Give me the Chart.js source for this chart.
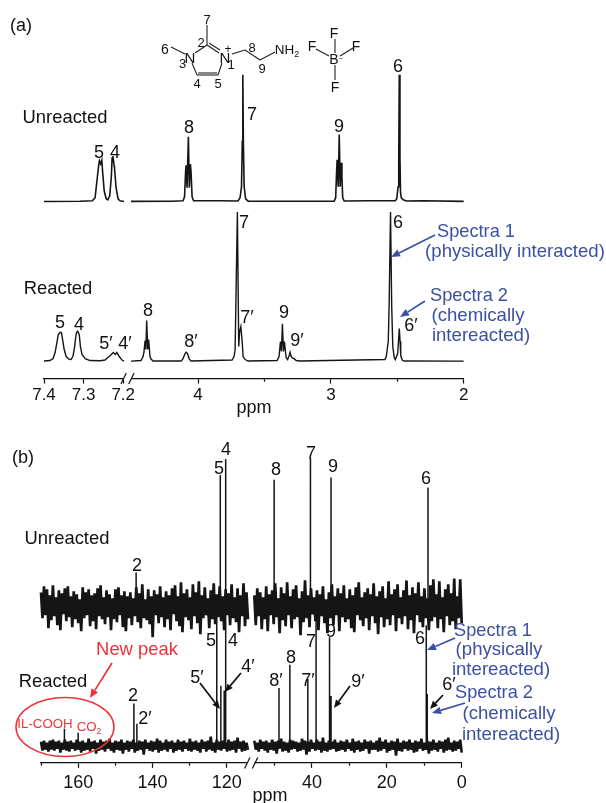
<!DOCTYPE html>
<html>
<head>
<meta charset="utf-8">
<title>NMR spectra</title>
<script src="https://cdn.jsdelivr.net/npm/chart.js@4"></script>
<style>
html,body{margin:0;padding:0;background:#fff;}
#page{position:relative;width:606px;height:803px;overflow:hidden;font-family:"Liberation Sans",Arial,sans-serif;color:#111;}
canvas{position:absolute;left:0;}
#art{position:absolute;left:0;top:0;}
.t{position:absolute;transform:translate(-50%,-50%);white-space:nowrap;line-height:1;}
sub{font-size:65%;vertical-align:baseline;position:relative;top:.3em;}
</style>
</head>
<body>
<div id="page">
<canvas id="a" width="606" height="415" style="top:0"></canvas>
<canvas id="b" width="606" height="373" style="top:430px"></canvas>
<svg id="art" width="606" height="803" xmlns="http://www.w3.org/2000/svg"></svg>
</div>
<script>
// ---------- (a) 1H spectra: chemical shift (ppm) / intensity ----------
const h1UnreactedLeftPpm=[7.4,7.309,7.278,7.271,7.266,7.262,7.26,7.257,7.254,7.252,7.248,7.243,7.239,7.234,7.23,7.228,7.226,7.223,7.222,7.218,7.213,7.208,7.198];
const h1UnreactedLeftInt=[0.3,0.5,1,4,22,36,41,38,41.5,30,11,3,2,6,25,44,45.5,36,34,14,3,1,0.3];
const h1UnreactedRightPpm=[4.505,4.2,4.113,4.102,4.094,4.09,4.083,4.073,4.066,4.058,4.053,4.045,4.034,3.834,3.699,3.684,3.673,3.667,3.663,3.659,3.653,3.642,3.623,3.2,2.975,2.964,2.957,2.953,2.945,2.937,2.93,2.922,2.917,2.911,2.9,2.7,2.515,2.504,2.494,2.489,2.485,2.48,2.476,2.47,2.455,2.432,2.312,2];
const h1UnreactedRightInt=[0.4,0.5,1,5,30,36.5,14,64.8,14,37.5,30,5,1,1,0.8,4,15,60,126.8,60,15,3,0.6,0.5,0.6,4,30,42,15,67,15,39,25,4,0.8,1,1,3,15,45,126.8,45,10,4,2,0.8,1,0.4];
const h1ReactedLeftPpm=[7.4,7.385,7.377,7.372,7.367,7.364,7.359,7.356,7.353,7.349,7.344,7.337,7.332,7.327,7.323,7.32,7.318,7.315,7.311,7.308,7.304,7.296,7.284,7.258,7.246,7.233,7.225,7.22,7.216,7.21,7.203,7.198];
const h1ReactedLeftInt=[0.6,1,3,9,20,27,29.3,29,22,12,5,2.4,2,5,14,24,29,30.3,27,15,7,3,1,0.8,1.5,6,9,7,9,5,1.5,0.5];
const h1ReactedRightPpm=[4.505,4.43,4.414,4.407,4.399,4.393,4.387,4.379,4.372,4.362,4.354,4.339,4.128,4.113,4.098,4.09,4.079,4.068,4.053,3.744,3.729,3.721,3.714,3.704,3.694,3.687,3.678,3.668,3.661,3.646,3.623,3.405,3.39,3.38,3.372,3.365,3.357,3.35,3.337,3.326,3.314,3.307,3.299,3.292,3.284,3.277,3.262,3.231,2.593,2.583,2.568,2.561,2.551,2.542,2.534,2.523,2.515,2.497,2.491,2.485,2.479,2.474,2.463,2.448,2];
const h1ReactedRightInt=[0.4,1,5,10,21,12,41,12,22,5,2.5,0.5,0.5,3,8,9.3,8,3,0.5,1.5,5,12,70,149.3,15,30,35,20,5,2,0.5,1,5,20,10,37.7,10,20,4,2,6,9.3,5,4,3,3,1,0.5,2,5,20,60,149.3,55,15,4,2,8,20,33,20,6,1.5,0.5,0.4];

// ---------- (b) 13C spectra: sticks ----------
const c13UnreactedPpm=[144.4,121.75,120.3,50.1,40.4,34.9,9.0];
const c13UnreactedInt=[34,132,148,127,148.7,129.3,119.3];
const c13ReactedPpm=[163.7,160,145,144.2,122.7,121.6,120.7,120.3,48.8,45.9,41.1,38.9,35.3,34.9,9.46,9.2];
const c13ReactedInt=[17,13,42.3,22,132,60.3,55.3,132,58,81.3,67,129,109,50,121,52];

// ---------- (b) 13C baseline noise, read as upper / lower excursions ----------
const noiseUnreactedLeft=[14,-12,20,-9,17,-22,11,-14,21,-10,9,-19,16,-24,13,-8,18,-15,20,-11,
10,-21,15,-13,12,-17,7,-25,19,-12,14,-9,17,-20,11,-15,13,-23,18,-10,
21,-13,9,-18,16,-11,12,-24,8,-13,17,-16,19,-9,11,-21,15,-25,10,-12,
14,-19,8,-10,19,-16,13,-22,22,-12,7,-14,17,-18,10,-31,16,-9,12,-17,
20,-11,9,-21,15,-13,11,-24,18,-8,21,-15,10,-20,24,-26,13,-11,17,-14,
9,-23,22,-10,14,-17,25,-28,11,-12,19,-9,8,-22,16,-13,23,-18,12,-11,
20,-15,10,-24,17,-9,13,-19,22,-12,9,-16,18,-26,11,-10,23,-20,14,-13];
const noiseUnreactedRight=[11,-19,18,-10,14,-23,9,-13,20,-25,12,-9,16,-18,23,-11,8,-27,19,-14,
13,-20,24,-9,10,-22,17,-13,21,-11,8,-29,15,-16,26,-12,11,-21,18,-8,
9,-15,16,-24,12,-10,20,-17,7,-27,14,-12,22,-19,10,-9,18,-25,13,-11,
21,-16,8,-13,17,-22,11,-26,19,-9,24,-14,9,-20,14,-12,18,-24,12,-10,
23,-17,10,-28,15,-11,20,-21,8,-13,25,-19,12,-9,17,-25,22,-12,9,-18,
16,-10,26,-23,11,-14,19,-27,13,-9,24,-16,10,-21,18,-12,8,-24,21,-15,
27,-11,12,-22,25,-13,9,-26,17,-10,22,-19,13,-15,28,-23,10,-12,27,-17];
const noiseReactedLeft=[4,-5,5,-4,3,-6,5,-4,6,-5,4,-3,5,-7,3,-4,6,-5,4,-6,
5,-3,3,-5,6,-4,4,-7,5,-5,3,-4,7,-6,4,-3,5,-8,3,-5,
6,-4,4,-6,5,-3,7,-5,3,-7,5,-4,4,-5,6,-8,3,-4,5,-6,
4,-3,6,-7,3,-5,5,-4,4,-9,6,-3,3,-5,5,-6,4,-4,7,-7,
5,-5,3,-4,6,-6,4,-3,5,-7,3,-5,6,-4,4,-6,5,-3,3,-5,
7,-6,4,-4,5,-5,3,-7,6,-3,4,-6,5,-4,9,-5,3,-7,6,-4,
4,-5,5,-3,3,-6,6,-5,4,-4,5,-7,8,-3,4,-6,5,-5,3,-4];
const noiseReactedRight=[5,-4,3,-6,6,-3,4,-5,5,-7,3,-4,6,-5,4,-8,5,-3,7,-6,
4,-5,3,-7,6,-4,5,-3,4,-6,3,-5,7,-4,5,-9,4,-6,6,-3,
3,-5,6,-4,4,-7,8,-5,3,-6,5,-4,4,-3,6,-6,3,-5,5,-4,
4,-6,6,-3,3,-5,7,-7,4,-4,5,-6,3,-5,6,-3,4,-8,5,-4,
3,-4,5,-6,8,-5,4,-3,6,-7,3,-5,5,-4,4,-10,7,-5,3,-6,
5,-3,4,-5,6,-4,3,-7,5,-6,4,-3,7,-5,3,-4,5,-8,4,-5,
6,-4,3,-6,5,-3,4,-7,6,-5,8,-4,3,-6,5,-5,4,-3,6,-7];

// ---------- axis ticks ----------
const ticksA=[7.4,7.3,7.2,4,3.5,3,2.5,2];
const labelsA=[7.4,7.3,7.2,4,3,2];
const ticksB=[170,160,150,140,130,120,50,40,30,20,10,0];
const labelsB=[160,140,120,40,20,0];
const rangesA=[[7.4,7.198],[4.505,2]];
const rangesB=[[170,114.3],[55.4,0]];

// ---------- text ----------
const textsBlack=[
["(a)",21,25,18],["Unreacted",65,117,18.4],["5",99,152,18],["4",115,151.5,18],["8",189,127,18],["7",252,114,18],["9",339,126,18],["6",398,66,18],
["Reacted",58,288,18.4],["5",60,322,18],["4",79,324,18],["5′",106,343,18],["4′",125,343,18],["8",148,310,18],["8′",191,341,18],["7",244,222,18],["7′",247,317,18],["9",284,312,18],["9′",297,340,18],["6",398,222,18],["6′",411,325,18],
["ppm",254,407,18],
["7",207,19,13],["2",201,42,13],["6",165,49,14],["3",182.5,63,13],["N",190,57,15],["N",225,57,15],["+",228,49,12],["1",231,64,13],["4",197,83,13],["5",218,83,13],["8",252,47,13],["9",262,68,13],["NH<sub>2</sub>",287,50,13.5],
["F",334,33,14],["F",312,46,14],["F",356,46,14],["F",335,87,14],["B",334,59,14],["⁻",341,61,11],
["(b)",23,457,18],["Unreacted",67,538,18.4],["2",137,565,18],["5",219,468,18],["4",226,449,18],["8",276,469,18],["7",311,453,18],["9",333,466,18],["6",426,478,18],
["Reacted",53,681,18.4],["2",133,695,18],["2′",145,718,18],["5",211,640,18],["4",233,640,18],["5′",197,677,18],["4′",248,666,18],["8",291,657,18],["8′",276,680,18],["7",311,641,18],["7′",308,680,18],["9",331,631,18],["9′",358,681,18],["6",420,638,18],["6′",449,684,18],
["ppm",270,795,18]
];
const textsRed=[["New peak",137,649,18.4],["IL-COOH",45,724,13.3],["CO<sub>2</sub>",89,727,13.3]];
const textsBlue=[
["Spectra 1",476,231,18.2],["(physically interacted)",515,251,18.6],["Spectra 2",469,295,18.2],["(chemically",478,315,18.6],["intereacted)",481,335,18.6],
["Spectra 1",493,630,18.2],["(physically",499,649,18.6],["intereacted)",501,669,18.6],["Spectra 2",494,692,18.2],["(chemically",509,713,18.6],["intereacted)",511,734,18.6]
];

// ---------- helpers ----------
function zip(xs,ys,offset){return xs.map((x,i)=>({x:x,y:ys[i]+(offset||0)}));}
function grid(range,values,offset){
  const step=(range[0]-range[1])/(values.length-1);
  return values.map((v,i)=>({x:range[0]-i*step,y:v+offset}));
}
function sticks(xs,ys,offset){
  const out=[];
  xs.forEach((x,i)=>{out.push({x:x,y:offset},{x:x,y:ys[i]+offset},{x:x,y:null});});
  return out;
}
function lineSet(data,width,join){
  return {data:data,showLine:true,pointRadius:0,borderWidth:width,borderColor:"#151515",tension:0,spanGaps:false,clip:false,borderJoinStyle:join||"miter"};
}

// ---------- broken x axis ----------
const breakLayouts={a:[[0,.1906],[.2073,1]],b:[[0,.4920],[.5070,1]]};
const breakRanges={a:rangesA,b:rangesB};
class BrokenScale extends Chart.LinearScale{
  buildTicks(){
    return (this.chart.canvas.id==="a"?ticksA:ticksB).map(v=>({value:v}));
  }
  getPixelForValue(v){
    const id=this.chart.canvas.id, r=breakRanges[id], f=breakLayouts[id];
    const i=(v>(r[0][1]+r[1][0])/2)?0:1;
    const t=(v-r[i][0])/(r[i][1]-r[i][0]);
    return this.left+this.width*(f[i][0]+t*(f[i][1]-f[i][0]));
  }
  _computeGridLineItems(area){
    const items=super._computeGridLineItems(area);
    const l=this.chart.canvas.id==="a"?labelsA:labelsB;
    items.forEach((it,i)=>{if(this.ticks[i]&&!l.includes(this.ticks[i].value)){it.ty2=it.ty1+2.5;}});
    return items;
  }
}
BrokenScale.id="broken";
BrokenScale.defaults=Chart.LinearScale.defaults;
Chart.register(BrokenScale);

const breakMarks={
  id:"breakMarks",
  afterDraw(chart){
    const id=chart.canvas.id,s=chart.scales.x,f=breakLayouts[id],c=chart.ctx;
    const x0=s.left+s.width*f[0][1],x1=s.left+s.width*f[1][0],y=s.top;
    c.save();
    c.fillStyle="#fff";c.fillRect(x0,y-2,x1-x0,4);
    c.strokeStyle="#111";c.lineWidth=1.2;
    const mid=(x0+x1)/2;
    [-3.9,3.9].forEach(d=>{c.beginPath();c.moveTo(mid+d-2.7,y+5.5);c.lineTo(mid+d+2.7,y-5.5);c.stroke();});
    c.restore();
  }
};

function makeChart(id,datasets,yMin,yMax,pad,labels,fontSize,tickPad){
  return new Chart(document.getElementById(id),{
    type:"scatter",
    data:{datasets:datasets},
    plugins:[breakMarks],
    options:{
      responsive:false,animation:false,events:[],
      layout:{padding:pad},
      plugins:{legend:{display:false},tooltip:{enabled:false}},
      scales:{
        x:{type:"broken",position:"bottom",min:0,max:200,
          border:{display:true,color:"#111",width:1.2},
          grid:{display:true,drawOnChartArea:false,drawTicks:true,tickLength:5,tickColor:"#111",tickWidth:1.2},
          ticks:{autoSkip:false,maxRotation:0,minRotation:0,padding:tickPad,color:"#111",
            font:{family:"'Liberation Sans',Arial,sans-serif",size:fontSize},
            callback:v=>labels.includes(v)?String(v):""}},
        y:{display:false,min:yMin,max:yMax}
      }
    }
  });
}

makeChart("a",[
  lineSet(zip(h1UnreactedLeftPpm,h1UnreactedLeftInt,159.5),1.6),
  lineSet(zip(h1UnreactedRightPpm,h1UnreactedRightInt,159.5),1.6),
  lineSet(zip(h1ReactedLeftPpm,h1ReactedLeftInt,0),1.4),
  lineSet(zip(h1ReactedRightPpm,h1ReactedRightInt,0),1.4)
],-17,300,{left:44,right:142.3,top:61,bottom:7},labelsA,17,2);

makeChart("b",[
  lineSet(grid(rangesB[0],noiseUnreactedLeft,140),2.7,"bevel"),
  lineSet(grid(rangesB[1],noiseUnreactedRight,140),2.7,"bevel"),
  lineSet(sticks(c13UnreactedPpm,c13UnreactedInt,140),1.5),
  lineSet(grid(rangesB[0],noiseReactedLeft,0),2.6,"bevel"),
  lineSet(grid(rangesB[1],noiseReactedRight,0),2.6,"bevel"),
  lineSet(sticks(c13ReactedPpm,c13ReactedInt,0),1.5)
],-17.3,297,{left:41,right:144.3,top:20,bottom:5.5},labelsB,18,4);

// ---------- text overlay ----------
const page=document.getElementById("page");
function addTexts(list,color){
  list.forEach(t=>{
    const s=document.createElement("span");
    s.className="t";s.innerHTML=t[0];
    s.style.left=t[1]+"px";s.style.top=t[2]+"px";s.style.fontSize=t[3]+"px";s.style.color=color;
    page.appendChild(s);
  });
}
addTexts(textsBlack,"#111");
addTexts(textsRed,"#ee3338");
addTexts(textsBlue,"#3c50a3");

// ---------- structure drawing, arrows, circle ----------
const svg=document.getElementById("art");
const NS="http://www.w3.org/2000/svg";
function el(name,attrs){const e=document.createElementNS(NS,name);for(const k in attrs)e.setAttribute(k,attrs[k]);svg.appendChild(e);return e;}
const bonds=[
 [207,45,207,25,1.1],[171,47,185,54,1.1],[195,53,207,45,1.1],[207,45,219,53,1.1],[209,43,220,50,1.1],
 [192,63,197,75,1.1],[222,63,218,75,1.1],[197,75,218,75,1.1],[198,73,217,73,1.1],
 [232,54,245,50,1.1],[245,50,260,60,1.1],[260,60,275,52,1.1],
 [335,39,335,53,1.1],[316,49,329,56,1.1],[340,56,353,48,1.1],[335,65,335,80,1.1]
];
bonds.forEach(b=>el("line",{x1:b[0],y1:b[1],x2:b[2],y2:b[3],stroke:"#222","stroke-width":b[4]}));
function arrow(x1,y1,x2,y2,color,w,size){
  const a=Math.atan2(y2-y1,x2-x1),bx=x2-size*Math.cos(a),by=y2-size*Math.sin(a);
  const nx=-Math.sin(a)*size*.42,ny=Math.cos(a)*size*.42;
  el("line",{x1:x1,y1:y1,x2:bx,y2:by,stroke:color,"stroke-width":w});
  el("polygon",{points:`${x2},${y2} ${bx+nx},${by+ny} ${bx-nx},${by-ny}`,fill:color});
}
arrow(435,235,391,257,"#3c50a3",1.7,9);
arrow(425,301,400,317,"#3c50a3",1.7,9);
arrow(455,638,427,650,"#3c50a3",1.7,9);
arrow(465,703,432,713,"#3c50a3",1.7,9);
arrow(112,663,90,698,"#ee3338",1.7,9);
arrow(200,683,220,709,"#111",1.7,8);
arrow(241,673,225,692,"#111",1.7,8);
arrow(350,686,334,708,"#111",1.7,8);
arrow(443,695,430,709,"#111",1.7,8);
el("ellipse",{cx:65,cy:727,rx:49,ry:29.5,fill:"none",stroke:"#ee3338","stroke-width":1.5});
</script>
</body>
</html>
